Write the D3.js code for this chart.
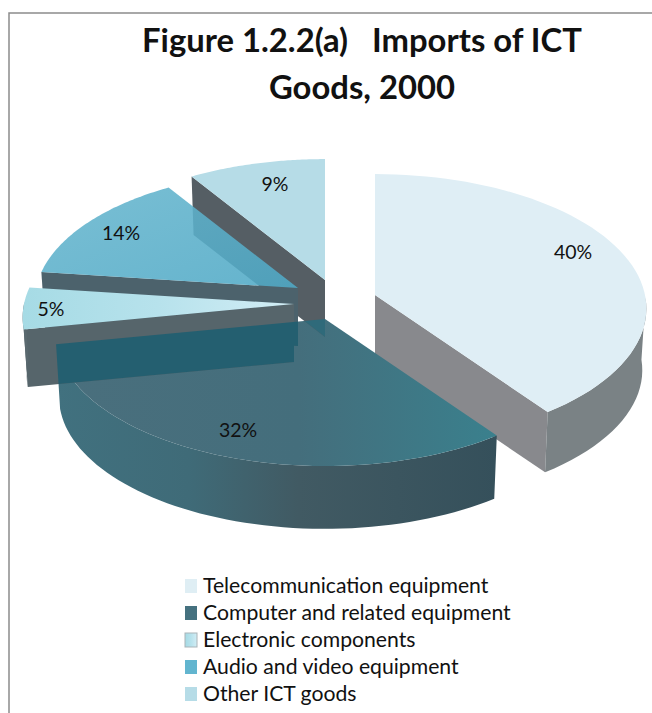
<!DOCTYPE html>
<html><head><meta charset="utf-8">
<script src="https://cdn.jsdelivr.net/npm/d3@7"></script>
<style>html,body{margin:0;padding:0;background:#fff}svg{display:block}text{font-family:Lato,"Open Sans",sans-serif;fill:#111}</style>
</head><body><div id="c"></div>
<script>
const categories=["Telecommunication equipment","Computer and related equipment","Electronic components","Audio and video equipment","Other ICT goods"];
const shares=[40,32,5,14,9];
const titleLines=["Figure 1.2.2(a)   Imports of ICT","Goods, 2000"];
// layout
const apex=[[375,295],[325,319],[294,304],[298,288],[325,280]];
const radiusScale=[1,.995,1,.97,1];
const depth=[62,65,58,58,57];
const labelPos=[[573,259],[238,437],[51,316],[121,240],[275,191]];
const topFill=["#dfeef5","url(#gDark)","url(#gElec)","url(#gAudio)","#b6dce7"];
const topAlpha=[1,1,1,.88,1];
const swatch=["#dfeef4","#45717f","url(#gElec)","#62b5cf","#b6dce7"];
const outerWall=["#7a8285","url(#gDarkWall)","#5a696f","#4c626c","#555e64"];
const cutWall=["#88898d","none","#56656b","#4c626c","#555e64"];
const cutOverDark=["none","none","#245f70","#245f70","#2f6a7a"];
const visibleFace=["end","none","start","start","start"];
const drawOrder=[0,1,4,3,2];
const R=270,aR=133,k=.1,lowScale=.985;

const W=652,H=713;
const svg=d3.select("#c").append("svg").attr("width",W).attr("height",H);
const defs=svg.append("defs");
function grad(id,x1,y1,x2,y2,stops){const g=defs.append("linearGradient").attr("id",id).attr("x1",x1).attr("y1",y1).attr("x2",x2).attr("y2",y2);
  stops.forEach(s=>g.append("stop").attr("offset",s[0]).attr("stop-color",s[1]));}
grad("gDark",0,0,1,0,[[0,"#4a6f7d"],[.55,"#446e7c"],[1,"#3a808d"]]);
grad("gDarkWall",0,0,1,0,[[0,"#41717f"],[.3,"#3f6b78"],[.55,"#415a63"],[1,"#35505b"]]);
grad("gElec",0,0,1,0,[[0,"#a6dbe5"],[.5,"#b7e2ec"],[1,"#d2edf5"]]);
grad("gAudio",0,0,1,1,[[0,"#67b6ce"],[1,"#4fa9c6"]]);

svg.append("path").attr("d",d3.line()([[9,H],[9,13],[W,13]])).attr("fill","none").attr("stroke","#8c8c8c").attr("stroke-width",1.5);

const pie=d3.pie().sort(null).value(d=>d);
const arcs=pie(shares);
function project(theta,r,i,dz){
  const X=Math.sin(theta),Y=-Math.cos(theta),rr=r*radiusScale[i],f=1/(1-k*Y*r);
  const s=dz?lowScale:1;
  return [apex[i][0]+R*rr*X*f*s, apex[i][1]+aR*rr*Y*f*s+(dz||0)];
}
const line=d3.line();
const samples=(a)=>d3.range(0,61).map(j=>a.startAngle+(a.endAngle-a.startAngle)*j/60);
const isFront=t=>Math.cos(t)<0.02;
const gPie=svg.append("g");
const darkIdx=1;
function darkShape(){
  const a=arcs[darkIdx],th=samples(a);
  const low=th.map(t=>project(t,1,darkIdx,depth[darkIdx]));
  return line([project(0,0,darkIdx),project(a.startAngle,1,darkIdx)].concat(low,[project(a.endAngle,1,darkIdx)]))+"Z";
}
defs.append("clipPath").attr("id","clipDark").append("path").attr("d",darkShape());
drawOrder.forEach(i=>{
  const a=arcs[i],th=samples(a),d=depth[i];
  const rim=th.map(t=>project(t,1,i));
  const c=project(0,0,i),cLow=project(0,0,i,d);
  const g=gPie.append("g");
  // visible cut face
  if(visibleFace[i]!=="none"){
    const t=visibleFace[i]==="start"?a.startAngle:a.endAngle;
    const face=line([c,project(t,1,i),project(t,1,i,d),cLow])+"Z";
    g.append("path").attr("d",face).attr("fill",cutWall[i]);
    if(cutOverDark[i]!=="none") g.append("path").attr("d",face).attr("fill",cutOverDark[i]).attr("clip-path","url(#clipDark)");
  }
  // outer wall (front of the rim only)
  const fr=th.filter(isFront);
  if(fr.length>1){
    const up=fr.map(t=>project(t,1,i)),lo=fr.map(t=>project(t,1,i,d));
    g.append("path").attr("d",line(up.concat(lo.reverse()))+"Z").attr("fill",outerWall[i]);
  }
  // top
  g.append("path").attr("d",line([c].concat(rim))+"Z").attr("fill",topFill[i]).attr("opacity",topAlpha[i]);
});

svg.append("g").selectAll("text").data(titleLines).join("text")
  .attr("x",362).attr("y",(d,i)=>52+i*47).attr("text-anchor","middle")
  .attr("font-size",32.8).attr("font-weight",700).attr("xml:space","preserve").style("white-space","pre").text(d=>d);

svg.append("g").selectAll("text").data(shares).join("text")
  .attr("x",(d,i)=>labelPos[i][0]).attr("y",(d,i)=>labelPos[i][1])
  .attr("text-anchor","middle").attr("font-size",19.5).text(d=>d+"%");

const ly=d3.scalePoint().domain(categories).range([586,694]);
const lg=svg.append("g").selectAll("g").data(categories).join("g").attr("transform",d=>`translate(185,${ly(d)})`);
lg.append("rect").attr("x",0).attr("y",-7).attr("width",12).attr("height",14).attr("fill",(d,i)=>swatch[i]).attr("stroke",(d,i)=>i==2?"#a9b4b8":"none");
lg.append("text").attr("x",18).attr("y",7).attr("font-size",21.2).text(d=>d);
</script></body></html>
